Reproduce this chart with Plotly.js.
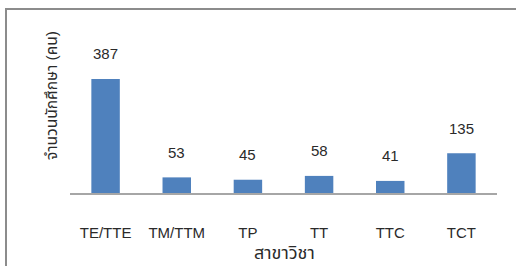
<!DOCTYPE html>
<html>
<head>
<meta charset="utf-8">
<script src="https://cdn.plot.ly/plotly-3.0.1.min.js"></script>
<style>
html,body{margin:0;padding:0;background:#fff;}
#wrap{position:relative;width:516px;height:266px;overflow:hidden;}
#chart{width:516px;height:266px;}
#frame{position:absolute;left:5px;top:8px;width:600px;height:400px;border-top:2px solid #8c8c8c;border-left:2px solid #8c8c8c;pointer-events:none;}
</style>
</head>
<body>
<div id="wrap"><div id="chart"></div><div id="frame"></div></div>
<script>
const categories = ["TE/TTE", "TM/TTM", "TP", "TT", "TTC", "TCT"];
const students = [387, 53, 45, 58, 41, 135];
const xTitle = "สาขาวิชา";
const yTitle = "จำนวนนักศึกษา (คน)";

const font = "Arial, 'Liberation Sans', 'Noto Sans Thai', sans-serif";
const txtColor = "#2a2a2a";

const trace = {
  type: "bar",
  x: categories,
  y: students,
  marker: {color: "#4F81BD"},
  hoverinfo: "none"
};

const annotations = categories.map((c, i) => ({
  x: c, y: students[i], text: String(students[i]),
  showarrow: false, yshift: 25,
  font: {family: font, size: 15, color: txtColor}
}));

annotations.push({
  xref: "paper", yref: "paper", x: 0.5035, y: 0, yshift: -60,
  xanchor: "center", yanchor: "middle", showarrow: false,
  text: xTitle, font: {family: font, size: 18, color: txtColor}
});
annotations.push({
  xref: "paper", yref: "paper", x: -0.0445, y: 0.5, yshift: 10,
  xanchor: "center", yanchor: "middle", showarrow: false, textangle: -90,
  text: yTitle, font: {family: font, size: 15.5, color: txtColor}
});

const layout = {
  width: 516, height: 266,
  margin: {l: 70, r: 19, t: 17, b: 73},
  paper_bgcolor: "#fff", plot_bgcolor: "#fff",
  bargap: 0.6,
  showlegend: false,
  xaxis: {
    showline: true, linecolor: "#a6a6a6", linewidth: 1.5,
    ticks: "", ticklabelstandoff: 25,
    tickfont: {family: font, size: 15, color: txtColor}
  },
  yaxis: {
    range: [0, 597], showgrid: false, zeroline: false, showline: false,
    showticklabels: false, ticks: ""
  },
  annotations: annotations
};

Plotly.newPlot("chart", [trace], layout, {displayModeBar: false, staticPlot: true});
</script>
</body>
</html>
